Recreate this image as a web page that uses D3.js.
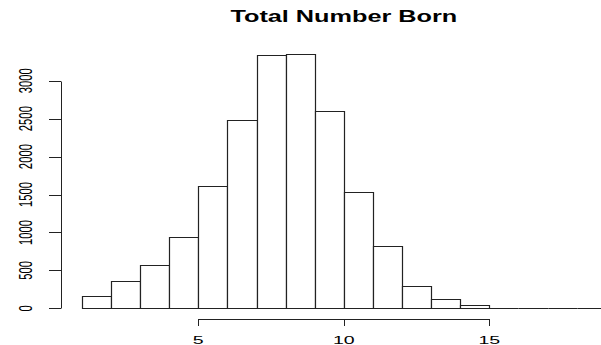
<!DOCTYPE html>
<html>
<head>
<meta charset="utf-8">
<script src="https://cdn.jsdelivr.net/npm/d3@7"></script>
<style>
  html, body { margin: 0; padding: 0; background: #fff; }
  svg { display: block; }
  text { font-family: "Liberation Sans", Arial, Helvetica, sans-serif; fill: #000; }
</style>
</head>
<body>
<div class="chart"></div>
<script>
// histogram of total number born, bins of width 1
const binStarts = [1, 2, 3, 4, 5, 6, 7, 8, 9, 10, 11, 12, 13, 14, 15, 16, 17, 18]
const counts = [160, 356, 575, 942, 1610, 2483, 3342, 3350, 2602, 1531, 818, 290, 127, 38, 9, 6, 0, 0]
const xTicks = [5, 10, 15]
const yTicks = [0, 500, 1000, 1500, 2000, 2500, 3000]
const title = "Total Number Born"

const width = 601
const height = 345

const svg = d3.select(".chart")
  .append("svg")
  .attr("width", width)
  .attr("height", height)

const x = d3.scaleLinear()
  .domain([5, 15])
  .range([198.3, 489.3])

const y = d3.scaleLinear()
  .domain([0, 3000])
  .range([308.3, 80.7])

const bins = binStarts.map((b, i) => ({ x0: b, x1: b + 1, n: counts[i] }))

// bars as closed paths so empty bins still show as a flat line
const px = v => Math.round(x(v)) + 0.5
const py = v => Math.round(y(v)) + 0.5

svg.append("g")
  .selectAll("path")
  .data(bins)
  .enter()
  .append("path")
  .attr("d", d => `M${px(d.x0)},${py(0)}V${py(d.n)}H${px(d.x1)}V${py(0)}Z`)
  .style("fill", "#fff")
  .style("stroke", "#222")
  .style("stroke-width", 1.2)

// x axis (R style: line from first to last tick, ticks down)
const xAxisY = 319
const gx = svg.append("g")
gx.append("line")
  .attr("x1", px(xTicks[0])).attr("x2", px(xTicks[xTicks.length - 1]))
  .attr("y1", xAxisY + 0.5).attr("y2", xAxisY + 0.5)
  .style("stroke", "#222")
gx.selectAll(".tick")
  .data(xTicks)
  .enter()
  .append("line")
  .attr("x1", d => px(d)).attr("x2", d => px(d))
  .attr("y1", xAxisY).attr("y2", xAxisY + 7)
  .style("stroke", "#222")
gx.selectAll("text")
  .data(xTicks)
  .enter()
  .append("text")
  .attr("transform", d => `translate(${x(d)},343.5) scale(1.7,1)`)
  .attr("text-anchor", "middle")
  .style("font-size", "11.5px")
  .text(d => d)

// y axis
const yAxisX = 61
const gy = svg.append("g")
gy.append("line")
  .attr("x1", yAxisX + 0.5).attr("x2", yAxisX + 0.5)
  .attr("y1", py(yTicks[0])).attr("y2", py(yTicks[yTicks.length - 1]))
  .style("stroke", "#222")
gy.selectAll(".tick")
  .data(yTicks)
  .enter()
  .append("line")
  .attr("x1", yAxisX - 12).attr("x2", yAxisX)
  .attr("y1", d => py(d)).attr("y2", d => py(d))
  .style("stroke", "#222")
gy.selectAll("text")
  .data(yTicks)
  .enter()
  .append("text")
  .attr("transform", d => `translate(31.5,${y(d)}) scale(1.7,1) rotate(-90)`)
  .attr("text-anchor", "middle")
  .style("font-size", "11.3px")
  .text(d => d)

svg.append("text")
  .attr("transform", `translate(${x(10)},22) scale(1.55,1)`)
  .attr("text-anchor", "middle")
  .style("font-size", "16.3px")
  .style("font-weight", "bold")
  .text(title)
</script>
</body>
</html>
